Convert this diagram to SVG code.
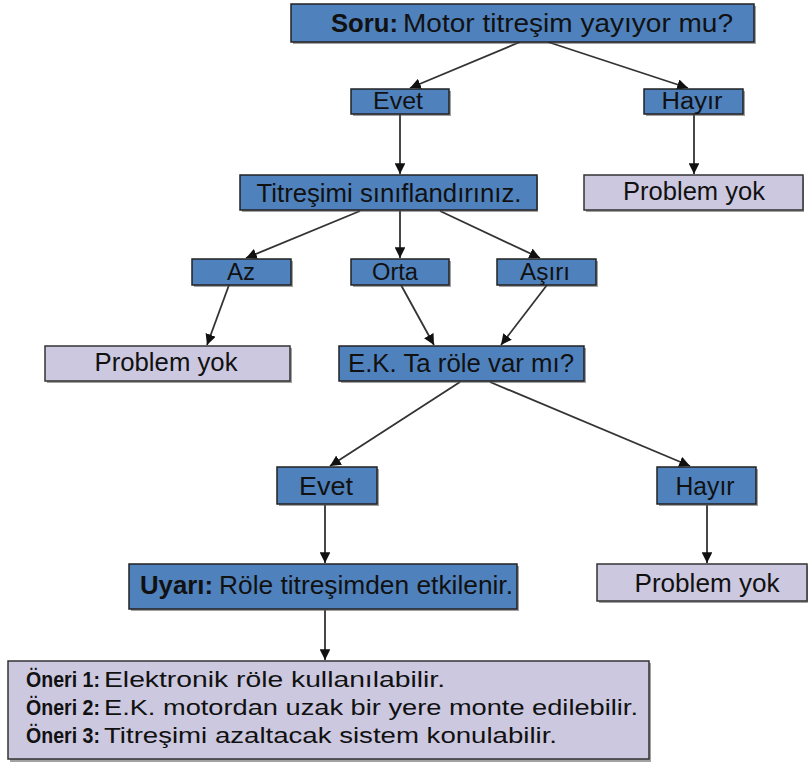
<svg xmlns="http://www.w3.org/2000/svg" width="808" height="762" viewBox="0 0 808 762">
  <defs>
    <style>
      .blue { fill: #4f81bd; stroke: #222; stroke-width: 1.5; }
      .lilac { fill: #ccc8e0; stroke: #333; stroke-width: 1.5; }
      .shadow { fill: #555; opacity: 0.55; }
      text { font-family: "Liberation Sans", Arial, sans-serif; fill: #111; }
      .big { font-size: 26px; }
      .sm { font-size: 23px; }
      .o { font-size: 22px; }
      .c { text-anchor: middle; }
      .b { font-weight: bold; }
      .edge { stroke: #333; stroke-width: 1.8; fill: none; marker-end: url(#arrow); }
    </style>
    <marker id="arrow" viewBox="0 0 10 10" refX="10" refY="5" markerWidth="6" markerHeight="6" orient="auto" markerUnits="strokeWidth">
      <path d="M0,0 L10,5 L0,10 z" fill="#111"/>
    </marker>
  </defs>
  <rect width="808" height="762" fill="#fff"/>

  <g id="connectors">
    <line class="edge" x1="520" y1="42" x2="410" y2="88"/>
    <line class="edge" x1="548" y1="42" x2="688" y2="88"/>
    <line class="edge" x1="400" y1="114" x2="400" y2="174"/>
    <line class="edge" x1="694" y1="114" x2="694" y2="174"/>
    <line class="edge" x1="360" y1="211" x2="246" y2="258"/>
    <line class="edge" x1="400" y1="211" x2="400" y2="258"/>
    <line class="edge" x1="440" y1="211" x2="540" y2="258"/>
    <line class="edge" x1="229" y1="285" x2="207" y2="345"/>
    <line class="edge" x1="401" y1="285" x2="434" y2="345"/>
    <line class="edge" x1="547" y1="285" x2="501" y2="345"/>
    <line class="edge" x1="460" y1="382" x2="330" y2="466"/>
    <line class="edge" x1="490" y1="382" x2="690" y2="466"/>
    <line class="edge" x1="325" y1="505" x2="325" y2="563"/>
    <line class="edge" x1="707" y1="505" x2="707" y2="563"/>
    <line class="edge" x1="325" y1="610" x2="325" y2="660"/>
  </g>

  <g id="n-soru">
    <rect class="shadow" x="293" y="6" width="463" height="38"/>
    <rect class="blue" x="291" y="4" width="463" height="38"/>
    <text class="big b" x="331" y="32" textLength="67" lengthAdjust="spacingAndGlyphs">Soru:</text>
    <text class="big" x="403" y="32" textLength="330" lengthAdjust="spacingAndGlyphs">Motor titreşim yayıyor mu?</text>
  </g>

  <g id="n-evet1">
    <rect class="shadow" x="353" y="91" width="98" height="25"/>
    <rect class="blue" x="351" y="89" width="98" height="25"/>
    <text class="sm c" x="398" y="109" textLength="50" lengthAdjust="spacingAndGlyphs">Evet</text>
  </g>

  <g id="n-hayir1">
    <rect class="shadow" x="646" y="91" width="99" height="25"/>
    <rect class="blue" x="644" y="89" width="99" height="25"/>
    <text class="sm c" x="692" y="109" textLength="61" lengthAdjust="spacingAndGlyphs">Hayır</text>
  </g>

  <g id="n-siniflandir">
    <rect class="shadow" x="242" y="177" width="296" height="35"/>
    <rect class="blue" x="240" y="175" width="297" height="35"/>
    <text class="big c" x="389" y="202" textLength="265" lengthAdjust="spacingAndGlyphs">Titreşimi sınıflandırınız.</text>
  </g>

  <g id="n-yok1">
    <rect class="shadow" x="586" y="177" width="218" height="35"/>
    <rect class="lilac" x="584" y="175" width="219" height="35"/>
    <text class="big c" x="694" y="200" textLength="142" lengthAdjust="spacingAndGlyphs">Problem yok</text>
  </g>

  <g id="n-az">
    <rect class="shadow" x="194" y="261" width="99" height="26"/>
    <rect class="blue" x="192" y="259" width="99" height="26"/>
    <text class="sm c" x="241" y="280" textLength="28" lengthAdjust="spacingAndGlyphs">Az</text>
  </g>

  <g id="n-orta">
    <rect class="shadow" x="353" y="261" width="98" height="26"/>
    <rect class="blue" x="351" y="259" width="98" height="26"/>
    <text class="sm c" x="395" y="280" textLength="46" lengthAdjust="spacingAndGlyphs">Orta</text>
  </g>

  <g id="n-asiri">
    <rect class="shadow" x="499" y="261" width="99" height="26"/>
    <rect class="blue" x="497" y="259" width="99" height="26"/>
    <text class="sm c" x="545" y="280" textLength="50" lengthAdjust="spacingAndGlyphs">Aşırı</text>
  </g>

  <g id="n-yok2">
    <rect class="shadow" x="47" y="348" width="245" height="35"/>
    <rect class="lilac" x="45" y="346" width="245" height="35"/>
    <text class="big c" x="166" y="371" textLength="143" lengthAdjust="spacingAndGlyphs">Problem yok</text>
  </g>

  <g id="n-ek">
    <rect class="shadow" x="341" y="348" width="245" height="35"/>
    <rect class="blue" x="339" y="346" width="245" height="35"/>
    <text class="big c" x="461" y="372" textLength="226" lengthAdjust="spacingAndGlyphs">E.K. Ta röle var mı?</text>
  </g>

  <g id="n-evet2">
    <rect class="shadow" x="279" y="469" width="100" height="37"/>
    <rect class="blue" x="277" y="467" width="100" height="37"/>
    <text class="big c" x="326" y="495" textLength="54" lengthAdjust="spacingAndGlyphs">Evet</text>
  </g>

  <g id="n-hayir2">
    <rect class="shadow" x="659" y="469" width="99" height="37"/>
    <rect class="blue" x="657" y="467" width="99" height="37"/>
    <text class="big c" x="705" y="495" textLength="59" lengthAdjust="spacingAndGlyphs">Hayır</text>
  </g>

  <g id="n-uyari">
    <rect class="shadow" x="131" y="566" width="388" height="45"/>
    <rect class="blue" x="129" y="564" width="388" height="45"/>
    <text class="big b" x="140" y="594" textLength="73" lengthAdjust="spacingAndGlyphs">Uyarı:</text>
    <text class="big" x="219" y="594" textLength="294" lengthAdjust="spacingAndGlyphs">Röle titreşimden etkilenir.</text>
  </g>

  <g id="n-yok3">
    <rect class="shadow" x="599" y="566" width="210" height="37"/>
    <rect class="lilac" x="597" y="564" width="210" height="37"/>
    <text class="big c" x="707" y="592" textLength="145" lengthAdjust="spacingAndGlyphs">Problem yok</text>
  </g>

  <g id="n-oneri">
    <rect class="shadow" x="10" y="663" width="641" height="99"/>
    <rect class="lilac" x="8" y="661" width="641" height="98"/>
    <text class="o b" x="26" y="687" textLength="74" lengthAdjust="spacingAndGlyphs">Öneri 1:</text>
    <text class="o" x="104" y="687" textLength="341" lengthAdjust="spacingAndGlyphs">Elektronik röle kullanılabilir.</text>
    <text class="o b" x="26" y="715" textLength="74" lengthAdjust="spacingAndGlyphs">Öneri 2:</text>
    <text class="o" x="104" y="715" textLength="534" lengthAdjust="spacingAndGlyphs">E.K. motordan uzak bir yere monte edilebilir.</text>
    <text class="o b" x="26" y="743" textLength="74" lengthAdjust="spacingAndGlyphs">Öneri 3:</text>
    <text class="o" x="104" y="743" textLength="453" lengthAdjust="spacingAndGlyphs">Titreşimi azaltacak sistem konulabilir.</text>
  </g>
</svg>
